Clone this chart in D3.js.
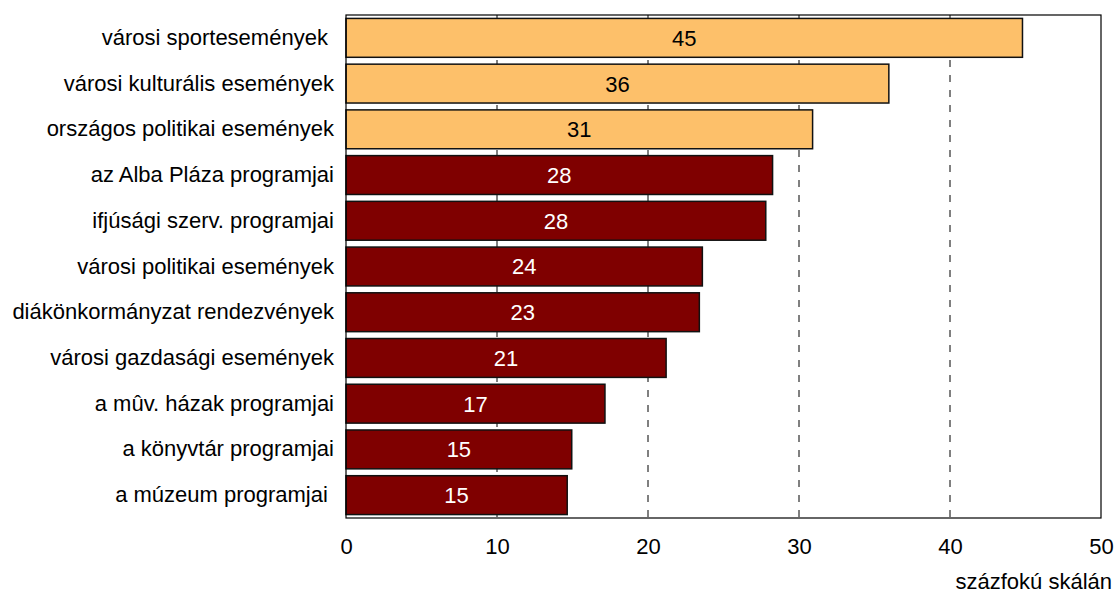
<!DOCTYPE html>
<html><head><meta charset="utf-8">
<script src="https://cdn.jsdelivr.net/npm/d3@7"></script>
<style>body{margin:0;background:#fff}svg{display:block}text{font-family:"Liberation Sans",Arial,sans-serif}</style>
</head><body><svg id="c" width="1115" height="594"></svg>
<script>
const categories = ["városi sportesemények ","városi kulturális események","országos politikai események","az Alba Pláza programjai","ifjúsági szerv. programjai","városi politikai események","diákönkormányzat rendezvények","városi gazdasági események","a mûv. házak programjai","a könyvtár programjai","a múzeum programjai "];
const values = [44.8,35.95,30.9,28.25,27.8,23.6,23.4,21.2,17.15,14.95,14.65];
const labels = ["45","36","31","28","28","24","23","21","17","15","15"];
const groups = ["hi","hi","hi","lo","lo","lo","lo","lo","lo","lo","lo"];
const xTicks = [0,10,20,30,40,50];
const gridTicks = [10,20,30,40];
const axisTitle = "százfokú skálán";

const m = {l:346, r:1101, t:15, b:518};
const svg = d3.select("#c");
const x = d3.scaleLinear().domain([0,50]).range([m.l,m.r]);
const y = d3.scaleBand().domain(categories).range([m.t,m.b]).paddingInner(0.15).paddingOuter(0.075);
const color = d3.scaleOrdinal().domain(["hi","lo"]).range(["#FDC06A","#7F0000"]);
const textColor = d3.scaleOrdinal().domain(["hi","lo"]).range(["#000","#fff"]);

svg.append("g").selectAll("line").data(gridTicks).join("line")
  .attr("x1",d=>x(d)).attr("x2",d=>x(d)).attr("y1",m.t).attr("y2",m.b)
  .attr("stroke","#000").attr("stroke-width",1).attr("stroke-dasharray","7,8");

const data = categories.map((c,i)=>({c, v:values[i], l:labels[i], g:groups[i]}));
svg.append("g").selectAll("rect").data(data).join("rect")
  .attr("x",x(0)).attr("y",d=>y(d.c)).attr("width",d=>x(d.v)-x(0)).attr("height",y.bandwidth())
  .attr("fill",d=>color(d.g)).attr("stroke","#111").attr("stroke-width",1.5);

svg.append("g").selectAll("text").data(data).join("text")
  .attr("x",d=>(x(0)+x(d.v))/2).attr("y",d=>y(d.c)+y.bandwidth()/2).attr("dy","0.36em")
  .attr("text-anchor","middle").attr("font-size",22).attr("fill",d=>textColor(d.g)).text(d=>d.l);

svg.append("rect").attr("x",m.l).attr("y",m.t).attr("width",m.r-m.l).attr("height",m.b-m.t)
  .attr("fill","none").attr("stroke","#000").attr("stroke-width",1.2);

const ya = svg.append("g").attr("transform",`translate(${m.l},0)`)
  .call(d3.axisLeft(y).tickSize(0).tickPadding(12));
ya.select(".domain").remove();
ya.selectAll("text").attr("font-size",22).attr("fill","#000").style("white-space","pre").attr("font-family","Liberation Sans, Arial, sans-serif");

const xa = svg.append("g").attr("transform",`translate(0,${m.b})`)
  .call(d3.axisBottom(x).tickValues(xTicks).tickSize(0).tickPadding(20).tickFormat(d3.format("d")));
xa.select(".domain").remove();
xa.selectAll("text").attr("font-size",22).attr("fill","#000").attr("font-family","Liberation Sans, Arial, sans-serif");

svg.append("text").attr("x",1112).attr("y",589).attr("text-anchor","end").attr("font-size",22).text(axisTitle);
</script></body></html>
